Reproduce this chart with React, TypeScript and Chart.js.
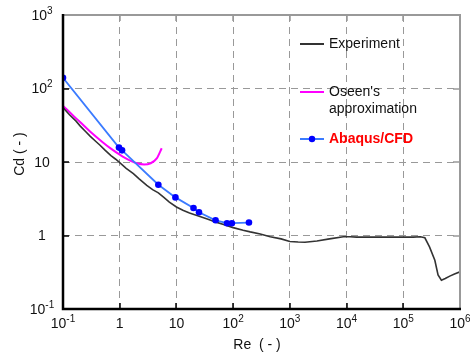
import React, { useEffect, useRef } from "react";
import { Chart, registerables } from "chart.js";

Chart.register(...registerables);

// ---------- data ----------
const expRe = [0.1, 0.13, 0.17, 0.2, 0.25, 0.3, 0.38, 0.45, 0.55, 0.7, 0.85, 1, 1.3, 1.74, 2.2, 3, 3.8, 4.8, 6, 7.5, 10, 13, 17, 26, 35, 50, 70, 100, 150, 200, 300, 450, 700, 1000, 1400, 1850, 3000, 5000, 8800, 11500, 15000, 30000, 60000, 100000, 150000, 200000, 240000, 290000, 360000, 410000, 470000, 550000, 660000, 800000, 1000000];
const expCd = [55, 44, 36, 31, 26, 22.5, 19, 16.9, 14.5, 12.2, 10.9, 9.8, 8.2, 6.95, 5.9, 4.8, 4.2, 3.8, 3.3, 2.85, 2.44, 2.2, 2.02, 1.82, 1.68, 1.52, 1.4, 1.28, 1.18, 1.12, 1.05, 0.96, 0.9, 0.83, 0.815, 0.81, 0.84, 0.9, 0.96, 0.96, 0.95, 0.95, 0.95, 0.95, 0.95, 0.96, 0.93, 0.7, 0.46, 0.29, 0.246, 0.26, 0.28, 0.3, 0.32];

const oseenRe = [0.1, 0.15, 0.2, 0.3, 0.5, 0.7, 1, 1.5, 2, 2.7, 3.5, 4.5, 5.5];
const oseenCd = [58, 43, 35, 26, 18.6, 15.2, 12.6, 10.5, 9.6, 9.25, 9.6, 11.2, 15.4];

const cfdRe = [0.1, 0.97, 1.1, 4.8, 9.6, 20, 25, 49, 78, 95, 190];
const cfdCd = [140, 15.7, 14.4, 4.9, 3.3, 2.37, 2.07, 1.61, 1.47, 1.47, 1.5];

const xTicks = [0.1, 1, 10, 100, 1000, 10000, 100000, 1000000];
const xTickLabels: [string, string][] = [["10", "-1"], ["1", ""], ["10", ""], ["10", "2"], ["10", "3"], ["10", "4"], ["10", "5"], ["10", "6"]];
const yTicks = [0.1, 1, 10, 100, 1000];
const yTickLabels: [string, string][] = [["10", "-1"], ["1", ""], ["10", ""], ["10", "2"], ["10", "3"]];

const seriesNames = ["Abaqus/CFD", "Experiment", "Oseen's approximation"];
const legendExperiment = ["Experiment"];
const legendOseen = ["Oseen's", "approximation"];
const legendCfd = ["Abaqus/CFD"];
const xTitle = "Re  ( - )";
const yTitle = "Cd ( - )";

const FONT = '"Liberation Sans", Arial, Helvetica, sans-serif';
const TEXT = "#111";

function drawPow(ctx: CanvasRenderingContext2D, base: string, exp: string, cx: number, cy: number) {
  ctx.font = `14px ${FONT}`;
  const wb = ctx.measureText(base).width;
  ctx.font = `10px ${FONT}`;
  const we = exp ? ctx.measureText(exp).width : 0;
  const x0 = cx - (wb + we) / 2;
  ctx.textAlign = "left";
  ctx.textBaseline = "middle";
  ctx.fillStyle = TEXT;
  ctx.font = `14px ${FONT}`;
  ctx.fillText(base, x0, cy);
  if (exp) {
    ctx.font = `10px ${FONT}`;
    ctx.fillText(exp, x0 + wb, cy - 5);
  }
}

const decorPlugin = {
  id: "decor",
  afterDatasetsDraw(chart: any) {
    const ctx: CanvasRenderingContext2D = chart.ctx;
    const { left, right, top, bottom } = chart.chartArea;
    const xs = chart.scales.x;
    const ys = chart.scales.y;
    ctx.save();
    // inner tick marks
    ctx.lineWidth = 1.5;
    xTicks.forEach((v) => {
      const px = Math.round(xs.getPixelForValue(v));
      ctx.strokeStyle = "#000";
      ctx.beginPath(); ctx.moveTo(px, bottom); ctx.lineTo(px, bottom - 6); ctx.stroke();
      ctx.strokeStyle = "#999";
      ctx.beginPath(); ctx.moveTo(px, top); ctx.lineTo(px, top + 6); ctx.stroke();
    });
    yTicks.forEach((v) => {
      const py = Math.round(ys.getPixelForValue(v));
      ctx.strokeStyle = "#000";
      ctx.beginPath(); ctx.moveTo(left, py); ctx.lineTo(left + 6, py); ctx.stroke();
      ctx.strokeStyle = "#999";
      ctx.beginPath(); ctx.moveTo(right, py); ctx.lineTo(right - 7, py); ctx.stroke();
    });
    // frame
    ctx.lineWidth = 2;
    ctx.strokeStyle = "#999";
    ctx.beginPath(); ctx.moveTo(left, top); ctx.lineTo(right, top); ctx.lineTo(right, bottom); ctx.stroke();
    ctx.strokeStyle = "#000";
    ctx.lineWidth = 2.5;
    ctx.beginPath(); ctx.moveTo(left, top - 1); ctx.lineTo(left, bottom); ctx.lineTo(right + 1, bottom); ctx.stroke();

    // tick labels
    xTicks.forEach((v, i) => {
      drawPow(ctx, xTickLabels[i][0], xTickLabels[i][1], xs.getPixelForValue(v), 324);
    });
    yTicks.forEach((v, i) => {
      drawPow(ctx, yTickLabels[i][0], yTickLabels[i][1], 42, ys.getPixelForValue(v) + 1);
    });

    // axis titles
    ctx.fillStyle = TEXT;
    ctx.font = `14px ${FONT}`;
    ctx.textAlign = "center";
    ctx.textBaseline = "middle";
    ctx.fillText(xTitle, 257, 345);
    ctx.save();
    ctx.translate(20, 154);
    ctx.rotate(-Math.PI / 2);
    ctx.fillText(yTitle, 0, 0);
    ctx.restore();

    // legend
    ctx.textAlign = "left";
    ctx.lineWidth = 2;
    ctx.strokeStyle = "#333";
    ctx.beginPath(); ctx.moveTo(300, 44); ctx.lineTo(324, 44); ctx.stroke();
    ctx.fillStyle = TEXT;
    ctx.font = `14px ${FONT}`;
    ctx.fillText(legendExperiment[0], 329, 44);

    ctx.strokeStyle = "#FF00FF";
    ctx.beginPath(); ctx.moveTo(300, 92); ctx.lineTo(324, 92); ctx.stroke();
    ctx.fillText(legendOseen[0], 329, 92);
    ctx.fillText(legendOseen[1], 329, 109);

    ctx.strokeStyle = "#3B7BFF";
    ctx.beginPath(); ctx.moveTo(300, 139); ctx.lineTo(324, 139); ctx.stroke();
    ctx.fillStyle = "#0000FF";
    ctx.beginPath(); ctx.arc(312, 139, 3.2, 0, Math.PI * 2); ctx.fill();
    ctx.fillStyle = "#FF0000";
    ctx.font = `bold 14px ${FONT}`;
    ctx.fillText(legendCfd[0], 329, 139);
    ctx.restore();
  },
};

export default function App() {
  const canvasRef = useRef<HTMLCanvasElement | null>(null);

  useEffect(() => {
    const canvas = canvasRef.current;
    if (!canvas) return;
    const toPts = (xs: number[], ys: number[]) => xs.map((x, i) => ({ x, y: ys[i] }));
    const chart = new Chart(canvas, {
      type: "line",
      data: {
        datasets: [
          {
            label: seriesNames[0],
            data: toPts(cfdRe, cfdCd),
            borderColor: "#3B7BFF",
            borderWidth: 1.8,
            pointRadius: 3.3,
            pointBackgroundColor: "#0000FF",
            pointBorderWidth: 0,
            tension: 0,
          },
          {
            label: seriesNames[1],
            data: toPts(expRe, expCd),
            borderColor: "#333333",
            borderWidth: 1.6,
            pointRadius: 0,
            tension: 0,
          },
          {
            label: seriesNames[2],
            data: toPts(oseenRe, oseenCd),
            borderColor: "#FF00FF",
            borderWidth: 2,
            pointRadius: 0,
            cubicInterpolationMode: "monotone",
          },
        ],
      },
      options: {
        responsive: false,
        animation: false,
        devicePixelRatio: 1,
        layout: { padding: { top: 15, right: 10, left: 0, bottom: 0 } },
        plugins: { legend: { display: false }, tooltip: { enabled: false } },
        scales: {
          x: {
            type: "logarithmic",
            min: 0.1,
            max: 1000000,
            afterBuildTicks: (s: any) => { s.ticks = xTicks.map((v) => ({ value: v })); },
            afterFit: (s: any) => { s.height = 49; },
            ticks: { display: false },
            grid: { color: "#999", lineWidth: 1, drawTicks: false },
            border: { display: false, dash: [7, 5] },
          },
          y: {
            type: "logarithmic",
            min: 0.1,
            max: 1000,
            afterBuildTicks: (s: any) => { s.ticks = yTicks.map((v) => ({ value: v })); },
            afterFit: (s: any) => { s.width = 63; },
            ticks: { display: false },
            grid: { color: "#999", lineWidth: 1, drawTicks: false },
            border: { display: false, dash: [7, 5] },
          },
        },
      } as any,
      plugins: [decorPlugin],
    });
    return () => chart.destroy();
  }, []);

  return (
    <div style={{ position: "fixed", left: 0, top: 0, width: 470, height: 358, background: "#fff" }}>
      <canvas ref={canvasRef} width={470} height={358} />
    </div>
  );
}
